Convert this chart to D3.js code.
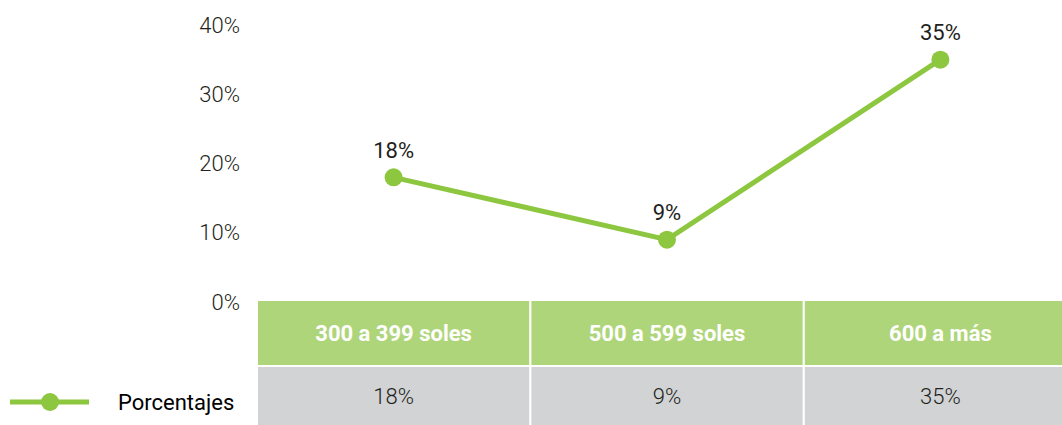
<!DOCTYPE html>
<html>
<head>
<meta charset="utf-8">
<style>
  body { margin: 0; background: #fff; }
  svg { display: block; font-family: Roboto, "Noto Sans", sans-serif; }
</style>
</head>
<body>
<svg width="1062" height="425"></svg>
<script src="https://d3js.org/d3.v7.min.js"></script>
<script>
// chart data
var categories = ["300 a 399 soles", "500 a 599 soles", "600 a más"];
var porcentajes = [18, 9, 35];
var yTicks = [0, 10, 20, 30, 40];
var seriesName = "Porcentajes";

var green = "#8dc63f",
    headGreen = "#afd57a",
    gray = "#d1d3d4",
    ink = "#231f20";

var svg = d3.select("svg");

var x = d3.scaleBand()
    .domain(categories)
    .range([258, 1076])
    .paddingInner(0.008)
    .paddingOuter(0);

var y = d3.scaleLinear()
    .domain([0, 40])
    .range([302, 25]);

// y axis labels (no line, no ticks)
svg.append("g")
  .selectAll("text")
  .data(yTicks)
  .enter().append("text")
    .attr("x", 240)
    .attr("y", function(d) { return y(d); })
    .attr("dy", "0.35em")
    .attr("text-anchor", "end")
    .attr("font-size", 22)
    .attr("font-weight", 300)
    .attr("fill", ink)
    .text(function(d) { return d + "%"; });

// data table under the plot
var headTop = 301, headH = 64, rowTop = 367, rowH = 58;

var cols = svg.append("g").selectAll("g")
  .data(categories)
  .enter().append("g");

cols.append("rect")
    .attr("x", function(d) { return x(d); })
    .attr("y", headTop)
    .attr("width", x.bandwidth())
    .attr("height", headH)
    .attr("fill", headGreen);

cols.append("text")
    .attr("x", function(d) { return x(d) + x.bandwidth() / 2; })
    .attr("y", headTop + headH / 2)
    .attr("dy", "0.35em")
    .attr("text-anchor", "middle")
    .attr("font-size", 22)
    .attr("font-weight", 700)
    .attr("fill", "#fff")
    .text(function(d) { return d; });

cols.append("rect")
    .attr("x", function(d) { return x(d); })
    .attr("y", rowTop)
    .attr("width", x.bandwidth())
    .attr("height", rowH)
    .attr("fill", gray);

cols.append("text")
    .attr("x", function(d) { return x(d) + x.bandwidth() / 2; })
    .attr("y", rowTop + rowH / 2)
    .attr("dy", "0.35em")
    .attr("text-anchor", "middle")
    .attr("font-size", 22)
    .attr("font-weight", 300)
    .attr("fill", ink)
    .text(function(d, i) { return porcentajes[i] + "%"; });

// line + markers
var pts = categories.map(function(c, i) { return { cat: c, v: porcentajes[i] }; });
var cx = function(d) { return x(d.cat) + x.bandwidth() / 2; };

svg.append("path")
    .datum(pts)
    .attr("fill", "none")
    .attr("stroke", green)
    .attr("stroke-width", 5)
    .attr("d", d3.line().x(cx).y(function(d) { return y(d.v); }));

svg.append("g").selectAll("circle")
  .data(pts)
  .enter().append("circle")
    .attr("cx", cx)
    .attr("cy", function(d) { return y(d.v); })
    .attr("r", 9)
    .attr("fill", green);

svg.append("g").selectAll("text")
  .data(pts)
  .enter().append("text")
    .attr("x", cx)
    .attr("y", function(d) { return y(d.v) - 27; })
    .attr("dy", "0.35em")
    .attr("text-anchor", "middle")
    .attr("font-size", 22)
    .attr("font-weight", 400)
    .attr("fill", ink)
    .text(function(d) { return d.v + "%"; });

// legend key in the table row
var leg = svg.append("g").attr("transform", "translate(0," + (rowTop + rowH / 2 + 6) + ")");
leg.append("line")
    .attr("x1", 10).attr("x2", 89)
    .attr("stroke", green).attr("stroke-width", 5);
leg.append("circle")
    .attr("cx", 50).attr("r", 9).attr("fill", green);
leg.append("text")
    .attr("x", 118)
    .attr("dy", "0.35em")
    .attr("font-size", 22)
    .attr("font-weight", 400)
    .attr("fill", "#000")
    .text(seriesName);
</script>
</body>
</html>
